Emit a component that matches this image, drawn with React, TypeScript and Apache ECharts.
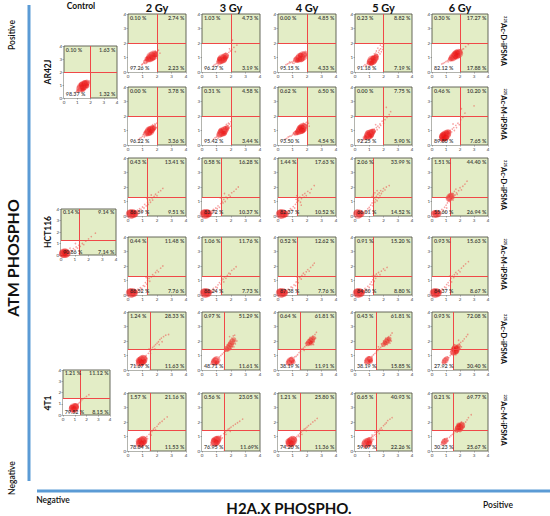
import React, { useEffect, useRef } from "react";
import * as echarts from "echarts";

// ---------- data ----------
const doses = ["2 Gy", "3 Gy", "4 Gy", "5 Gy", "6 Gy"];
const cellLines = ["AR42J", "HCT116", "4T1"];
const treatments = ["Ac-D-iPSMA", "Ac-M-iPSMA"];
const isotope = "225";
// quadrant gates [x, y] per cell line
const gates = [[2, 2], [1.3, 1.3], [1.5, 1.45]];

// quadrant percentages: [upper-left, upper-right, lower-left, lower-right]
const controlPct = [
  ["0.10 %", "1.63 %", "98.37 %", "1.32 %"],
  ["0.14 %", "9.14 %", "90.86 %", "7.14 %"],
  ["1.21 %", "11.12 %", "79.52 %", "8.15 %"],
];
const ar42jDPct = [
  ["0.10 %", "2.74 %", "97.26 %", "2.23 %"],
  ["1.03 %", "4.73 %", "96.27 %", "3.19 %"],
  ["0.00 %", "4.85 %", "95.15 %", "4.33 %"],
  ["0.23 %", "8.82 %", "91.18 %", "7.19 %"],
  ["0.30 %", "17.27 %", "82.12 %", "17.88 %"],
];
const ar42jMPct = [
  ["0.00 %", "3.78 %", "96.22 %", "3.36 %"],
  ["0.31 %", "4.58 %", "95.42 %", "3.44 %"],
  ["0.62 %", "6.50 %", "93.50 %", "4.54 %"],
  ["0.00 %", "7.75 %", "92.25 %", "5.90 %"],
  ["0.46 %", "10.20 %", "89.80 %", "7.65 %"],
];
const hct116DPct = [
  ["0.43 %", "13.41 %", "86.59 %", "9.51 %"],
  ["0.58 %", "16.28 %", "83.72 %", "10.37 %"],
  ["1.44 %", "17.63 %", "82.37 %", "10.52 %"],
  ["2.06 %", "33.99 %", "66.01 %", "14.52 %"],
  ["1.51 %", "44.40 %", "55.60 %", "26.94 %"],
];
const hct116MPct = [
  ["0.44 %", "11.48 %", "88.52 %", "7.76 %"],
  ["1.06 %", "11.76 %", "88.24 %", "7.73 %"],
  ["0.52 %", "12.62 %", "87.38 %", "7.76 %"],
  ["0.91 %", "15.20 %", "84.80 %", "8.80 %"],
  ["0.93 %", "15.63 %", "84.37 %", "8.67 %"],
];
const t41DPct = [
  ["1.24 %", "28.33 %", "71.67 %", "11.63 %"],
  ["0.97 %", "51.29 %", "48.71 %", "11.61 %"],
  ["0.64 %", "61.81 %", "38.19 %", "11.91 %"],
  ["0.43 %", "61.81 %", "38.19 %", "15.85 %"],
  ["0.93 %", "72.08 %", "27.92 %", "30.40 %"],
];
const t41MPct = [
  ["1.57 %", "21.16 %", "78.84 %", "11.53 %"],
  ["0.56 %", "23.05 %", "76.95 %", "11.69%"],
  ["1.21 %", "25.80 %", "74.20 %", "11.36 %"],
  ["0.65 %", "40.93 %", "59.07 %", "22.26 %"],
  ["0.21 %", "69.77 %", "30.23 %", "25.67 %"],
];

// events: "x y [dotSize]" separated by commas
const controlClouds = [
  "1.35 .85 6,1.5 .98 6,1.62 1.08 5,1.22 .74 5,1.72 1.18 4,1.42 .8 4,1.55 1.12 4,1.0 .5,1.08 .58,.92 .46,1.15 .72,1.26 .62,1.38 1.0,1.45 .7,1.6 .9,1.68 .98,1.78 1.06,1.82 1.28,1.88 1.2,1.48 1.1,1.62 1.24,1.04 .64,1.94 1.32,1.3 .56,1.52 .76,1.18 .86,1.7 1.3,1.12 .5,.98 .6,1.2 .95,1.45 .65 3,1.65 .82,1.3 1.05 3,1.55 1.25,1.75 .92 3",
  "0.2 .15 6,0.32 .16 6,0.42 .14 5,0.14 .12 5,0.26 .22 4,0.38 .24 3,.5 .18,.55 .3,.6 .22,.7 .4,.8 .35,.9 .55,1.0 .45,1.1 .7,1.2 .6,1.3 .85,1.4 .75,1.55 1.0,1.65 .9,1.8 1.2,2.0 1.4,2.2 1.6,.65 .6,1.05 1.0,2.5 1.9",
  "0.92 .62 6,1.02 .7 5,0.82 .55 5,0.95 .5 4,1.1 .78 4,0.75 .68 3,.6 .4,.65 .55,.7 .45,.78 .8,.88 .85,1.0 .9,1.05 .45,1.15 .6,1.2 .9,1.3 1.0,1.4 1.1,1.5 1.2,1.6 1.35,1.7 1.45,1.85 1.5,2.0 1.65,2.2 1.8,1.25 .75,.85 .35",
];
const ar42jDClouds = [
  "1.6 1.05 6,1.75 1.15 6,1.5 .95 5,1.85 1.22 4,1.4 .88 4,1.68 .98 4,1.2 .7 3,1.0 .55,1.1 .62,1.15 .8,1.3 .66,1.35 .95,1.45 1.1,1.55 .8,1.62 1.25,1.78 1.3,1.9 1.35,1.95 1.1,1.98 1.4,1.82 1.0,1.25 .85,.95 .5,1.7 1.35,1.88 1.45,1.58 1.18,1.42 .75,2.1 1.5,2.2 1.3,1.5 1.2,1.8 .95,1.6 .85,1.45 1.15,1.9 1.2 3,1.3 .9 3",
  "1.4 .9 6,1.55 1.02 5,1.3 .82 5,1.65 1.12 4,1.2 .7 4,1.5 .85 4,.8 .45,.9 .52,1.0 .58,1.05 .7,1.12 .62,1.18 .85,1.28 .95,1.38 .68,1.45 1.1,1.6 .92,1.72 1.25,1.8 1.15,1.85 1.35,1.95 1.45,1.75 1.0,1.62 1.28,2.05 1.55,2.2 1.7,2.4 1.85,2.1 2.2,1.9 1.6,1.1 .45,2.3 1.4,1.25 1.0,1.55 .75,1.35 .7,1.2 .9 3,1.6 1.0 3,1.45 1.1",
  "1.55 1.0 6,1.7 1.1 6,1.4 .92 5,1.8 1.2 4,1.25 .85 4,1.6 .9 4,.55 .5,.65 .55,.75 .6,.85 .65,.95 .7,1.05 .75,1.0 .62,1.12 .82,1.2 .72,1.3 .98,1.35 .78,1.45 1.08,1.5 .82,1.65 1.22,1.75 .98,1.85 1.3,1.92 1.15,1.98 1.38,2.0 1.25,1.88 1.42,1.15 .92,.8 .7,1.45 1.1,1.75 .9,1.55 1.15 3,1.35 .8 3,1.85 1.05,1.1 .6",
  "1.2 .8 6,1.35 .9 5,1.1 .7 5,1.45 1.0 4,1.3 .72 4,1.0 .62 3,.6 .4,.7 .5,.8 .45,.85 .6,.9 .75,1.0 .85,1.05 .55,1.15 .95,1.25 1.05,1.4 1.15,1.5 .82,1.55 1.2,1.6 1.05,1.65 1.35,1.7 1.5,1.75 1.25,1.8 1.6,1.85 1.4,1.9 1.75,1.95 1.55,1.45 1.3,1.6 1.65,1.35 1.25,2.0 1.9,1.78 1.85,1.5 1.45,1.05 .9,1.35 .65,1.25 .95 3,1.15 .6 3,1.5 1.1 3,1.6 .9",
  "1.75 1.2 6,1.88 1.28 6,1.62 1.12 5,1.5 1.02 5,1.95 1.35 4,1.4 .95 4,1.3 .88 3,.7 .55,.8 .6,.9 .65,1.0 .72,1.1 .78,1.15 .7,1.2 .85,1.35 1.02,1.45 .85,1.55 1.18,1.65 .98,1.7 1.3,1.82 1.08,1.85 1.4,2.0 1.22,2.05 1.48,2.1 1.35,2.25 1.6,2.4 1.75,2.6 1.9,1.98 1.5,1.6 1.25,2.15 1.55,1.65 1.3 3,1.9 1.15 3,1.8 1.35 3,1.55 1.2,1.95 1.25,1.7 1.05 3",
];
const ar42jMClouds = [
  "1.5 .98 6,1.62 1.08 5,1.38 .88 5,1.72 1.15 4,1.25 .8 4,1.5 .82 3,.7 .35,.8 .45,.9 .5,1.0 .6,1.05 .72,1.12 .55,1.2 .92,1.3 .68,1.35 1.02,1.45 1.12,1.55 .75,1.6 1.22,1.68 .95,1.75 1.3,1.82 1.05,1.88 1.38,1.95 1.2,1.98 1.5,1.85 1.45,1.15 .85,1.42 .7,1.7 1.4,1.35 1.05,1.65 .88,1.45 1.1 3,1.6 .95 3,1.3 .72,1.8 1.2 3",
  "1.42 .9 6,1.55 1.02 5,1.3 .82 5,1.65 1.12 4,1.2 .7 4,1.48 .8 3,.8 .4,.9 .5,1.0 .55,1.05 .68,1.12 .6,1.15 .82,1.25 .95,1.35 .65,1.38 1.05,1.5 1.12,1.58 .88,1.62 1.25,1.72 1.0,1.78 1.35,1.85 1.18,1.9 1.45,1.98 1.3,2.0 1.6,1.82 1.5,1.68 1.42,1.1 .45,1.3 1.0 3,1.55 .8 3,1.2 .85,1.65 1.05,1.45 .72,1.75 1.2 3",
  "1.6 1.1 6,1.72 1.2 6,1.5 1.0 5,1.82 1.28 4,1.4 .92 4,1.65 .98 4,1.3 .85 3,.5 .4,.6 .45,.7 .55,.8 .6,.9 .62,1.0 .7,1.05 .82,1.15 .75,1.2 .95,1.3 1.05,1.45 1.15,1.55 .85,1.62 1.3,1.78 1.05,1.85 1.42,1.9 1.2,1.95 1.55,2.0 1.38,2.05 1.65,2.1 1.5,1.75 1.48,1.35 .72,2.15 1.3,1.5 1.2 3,1.75 1.0 3,1.4 1.05,1.85 1.15,1.65 1.25 3,1.2 .8 3",
  "1.0 .72 6,1.12 .82 5,.9 .62 5,1.22 .92 4,.82 .55 3,1.05 .6 3,.5 .3,.6 .38,.65 .5,.72 .42,.75 .62,.85 .75,.95 .85,1.05 .95,1.15 .65,1.2 1.05,1.3 .8,1.35 1.1,1.4 .95,1.5 1.2,1.55 1.05,1.6 1.3,1.7 1.2,1.75 1.45,1.8 1.35,2.0 1.5,2.1 1.75,2.25 1.9,2.4 2.1,2.2 2.6,2.5 2.3,1.45 1.4,1.9 1.65,.9 .85 3,1.15 .65 3,1.3 .95 3,.75 .7,1.1 .95,.7 .5 3",
  "0.88 .6 6,1.0 .7 6,.78 .5 5,1.1 .8 5,.95 .48 4,.72 .62 4,1.2 .9 3,.6 .35,.65 .45,.7 .3,.82 .72,.9 .82,1.05 .55,1.15 .65,1.25 .75,1.3 1.0,1.4 .9,1.45 1.1,1.55 1.2,1.6 1.0,1.7 1.35,1.75 1.2,1.85 1.5,1.95 1.4,2.05 1.75,2.2 1.9,2.35 2.2,3.0 2.7,2.1 2.5,1.5 1.45,.55 .55,.8 .7 4,1.0 .5 4,1.05 .82 3,.7 .4 3,1.2 .65,.85 .4 3",
];
const hct116DClouds = [
  "0.18 .14 6,0.3 .16 6,0.42 .15 5,0.52 .18 4,0.12 .2 4,0.36 .26 3,.6 .25,.65 .4,.75 .3,.8 .5,.9 .45,1.0 .62,1.1 .55,1.15 .8,1.25 .7,1.35 .95,1.4 .8,1.5 1.1,1.55 .95,1.65 1.25,1.7 1.1,1.8 1.35,1.9 1.5,2.0 1.4,2.1 1.65,2.25 1.75,2.4 1.9,1.3 1.2,1.6 1.45,.95 .3",
  "0.18 .14 6,0.3 .15 6,0.4 .18 5,0.12 .22 4,0.48 .14 4,.58 .22,.62 .35,.7 .28,.78 .45,.85 .4,.95 .55,1.05 .5,1.1 .7,1.2 .6,1.3 .85,1.38 1.0,1.45 .9,1.5 1.15,1.6 1.0,1.65 1.3,1.75 1.2,1.85 1.45,1.95 1.35,2.05 1.6,2.2 1.7,2.35 1.85,1.25 1.25,1.55 1.55,2.5 2.0,.9 .25",
  "0.18 .13 6,0.3 .15 6,0.42 .16 5,0.54 .14 4,0.12 .22 4,.62 .25,.7 .35,.78 .3,.85 .5,.95 .45,1.05 .65,1.15 .55,1.2 .8,1.3 .95,1.35 1.1,1.38 1.2,1.42 1.05,1.5 1.3,1.55 .95,1.62 1.2,1.7 1.45,1.8 1.3,1.85 1.55,1.95 1.4,2.05 1.7,2.2 1.6,2.3 1.85,1.3 1.4,1.25 1.15,2.5 2.1,1.6 .75",
  "0.2 .14 6,0.34 .15 5,0.46 .16 4,0.14 .22 4,.6 .22,.7 .35,.8 .3,.9 .5,1.0 .6,1.05 .45,1.1 .75,1.2 .9,1.25 .7,1.3 1.05,1.35 1.25,1.4 .95,1.45 1.15,1.5 1.35,1.55 1.05,1.6 1.5,1.65 1.25,1.7 1.6,1.75 1.4,1.8 1.75,1.85 1.55,1.95 1.7,2.0 1.9,2.1 1.8,2.2 2.0,2.4 2.1,1.4 1.6,1.2 1.35,1.55 1.75,1.3 1.5",
  "0.2 .14 5,0.34 .15 5,0.46 .16 4,0.14 .22 3,1.3 1.3 5,1.4 1.4 4,1.2 1.2 4,.6 .3,.7 .45,.8 .4,.9 .6,1.0 .75,1.05 .55,1.1 .9,1.15 1.05,1.25 1.0,1.3 1.15,1.35 1.5,1.4 1.2,1.45 1.35,1.5 1.55,1.55 1.25,1.6 1.7,1.65 1.45,1.7 1.85,1.75 1.6,1.8 1.5,1.9 1.75,2.0 1.95,2.1 1.8,2.2 2.05,2.35 2.2,2.5 2.4,1.2 1.45,1.5 1.1,1.05 1.25,.95 .3",
];
const hct116MClouds = [
  "0.18 .14 6,0.3 .16 6,0.42 .15 5,0.12 .22 4,0.5 .2 3,.6 .25,.68 .4,.75 .3,.85 .5,.95 .45,1.05 .65,1.15 .6,1.2 .85,1.3 .75,1.35 1.0,1.45 1.15,1.5 .95,1.6 1.25,1.7 1.4,1.8 1.3,1.9 1.55,2.0 1.7,2.1 1.6,2.25 1.85,2.4 2.0,1.25 1.2,.9 .3",
  "0.18 .14 6,0.3 .15 6,0.42 .16 5,0.12 .22 4,0.52 .2 3,.6 .3,.7 .25,.78 .45,.85 .35,.95 .55,1.05 .5,1.1 .7,1.2 .85,1.3 .75,1.35 1.0,1.45 1.1,1.5 .9,1.55 1.25,1.65 1.15,1.75 1.35,1.85 1.5,1.95 1.45,2.05 1.7,2.2 1.8,2.35 1.95,1.3 1.3,.95 .25",
  "0.18 .14 6,0.3 .16 6,0.42 .15 5,0.12 .22 4,0.52 .18 3,.6 .28,.7 .4,.8 .35,.9 .55,1.0 .5,1.1 .7,1.2 .65,1.25 .9,1.35 1.05,1.4 .85,1.5 1.2,1.6 1.1,1.65 1.35,1.75 1.5,1.85 1.4,1.95 1.6,2.05 1.75,2.15 1.65,2.25 1.9,2.4 2.05,2.5 2.2,1.3 1.25",
  "0.18 .14 6,0.3 .15 6,0.42 .16 5,0.12 .22 4,0.54 .2 3,.62 .3,.7 .45,.8 .38,.9 .6,1.0 .52,1.05 .75,1.15 .9,1.2 .7,1.25 1.05,1.3 1.2,1.35 .95,1.4 1.35,1.45 1.15,1.5 1.45,1.55 1.3,1.65 1.55,1.75 1.4,1.85 1.65,2.0 1.8,2.1 1.7,2.25 1.9,1.2 1.3,.95 .3",
  "0.18 .14 6,0.3 .15 6,0.42 .16 5,0.12 .22 4,0.54 .2 3,.62 .3,.72 .42,.8 .35,.9 .55,1.0 .5,1.05 .72,1.15 .85,1.2 .65,1.3 1.0,1.35 1.15,1.4 .9,1.45 1.3,1.55 1.2,1.6 1.4,1.7 1.55,1.8 1.45,1.9 1.7,2.0 1.6,2.1 1.85,2.25 2.0,2.4 2.15,2.6 2.3,1.25 1.3",
];
const t41DClouds = [
  "0.92 .62 6,1.02 .72 6,0.82 .52 5,0.95 .48 4,1.1 .8 4,0.75 .66 4,1.15 .6 3,.55 .3,.6 .45,.65 .35,.7 .55,.75 .8,.85 .88,.95 .95,1.05 .4,1.2 .9,1.25 1.0,1.3 .8,1.4 1.15,1.5 1.3,1.6 1.4,1.7 1.55,1.8 1.65,1.9 1.75,2.0 1.85,2.1 1.95,2.2 2.1,2.3 2.2,2.45 2.3,2.6 2.4,2.8 2.45,1.55 1.15,1.85 1.45,2.15 1.75,1.45 1.45,2.35 1.95",
  "0.9 .6 5,1.0 .68 5,0.82 .52 4,1.05 .5 3,.6 .4,.7 .55,.75 .7,.85 .8,.95 .82,1.1 .75,1.2 .9,1.3 1.0,1.4 1.1,1.5 1.2,1.6 1.3,1.7 1.4 3,1.8 1.5 4,1.9 1.65 4,2.0 1.8 4,2.1 1.95 4,2.2 2.1 3,1.75 1.75,1.85 1.9,1.95 2.05,2.05 2.2,2.15 2.35,2.25 2.4,2.3 1.8,2.2 1.6,2.0 1.45,1.65 1.6,1.55 1.45,2.4 2.0,1.9 2.3,2.1 1.6",
  "0.85 .6 5,0.95 .7 4,0.75 .5 4,1.05 .55 3,.6 .4,.65 .55,.7 .7,.8 .78,.9 .85,1.0 .8,1.1 .68,1.15 .9,1.25 .95,1.35 1.05,1.45 1.2,1.55 1.3,1.65 1.45,1.75 1.5,1.85 1.6,1.95 1.7,2.05 1.8 3,2.15 1.9 4,2.25 2.0 4,2.35 2.1 4,2.45 2.2 3,2.3 1.85 3,2.2 2.25,2.4 2.35,2.55 2.45,2.6 2.2,2.5 1.95,2.0 1.95,1.9 1.85,2.1 2.1,2.65 2.6,2.45 1.75,1.8 1.35",
  "0.95 .68 5,1.05 .75 4,0.85 .58 4,1.1 .6 3,.7 .5,.75 .65,.8 .78,.9 .85,1.0 .9,1.15 .82,1.2 .95,1.3 1.05,1.4 1.15,1.5 1.25,1.6 1.35,1.7 1.45,1.8 1.55,1.9 1.65,2.0 1.75 3,2.1 1.85 3,2.2 1.95 4,2.3 2.05 4,2.4 2.15 3,2.25 1.75,2.15 2.2,2.35 2.3,2.5 2.4,2.55 2.0,2.0 2.0,1.85 1.8,2.6 2.55,1.65 1.6,2.45 1.85",
  "0.95 .65 4,0.85 .55 3,1.05 .78 3,.75 .5,.8 .7,.9 .8,1.0 .55,1.1 .9,1.2 .85,1.3 1.0,1.4 1.1,1.5 1.2 4,1.6 1.3 5,1.7 1.4 5,1.8 1.5 4,1.65 1.55 4,1.55 1.45 3,1.75 1.25 3,1.9 1.65 3,1.95 1.8,2.05 1.9,2.1 1.6,2.2 2.0,2.3 2.15,2.45 2.3,2.55 2.45,1.5 1.6,1.45 1.35,1.85 1.3,2.0 1.45,1.6 1.75,1.4 1.5,1.7 1.05,1.9 2.05",
];
const t41MClouds = [
  "0.92 .62 6,1.02 .72 6,0.82 .52 5,0.95 .48 4,1.1 .8 4,0.75 .68 4,1.15 .62 3,.55 .35,.6 .48,.68 .38,.72 .78,.85 .88,.95 .95,1.05 .42,1.2 .9,1.3 1.0,1.35 .85,1.45 1.15,1.55 1.25,1.65 1.35,1.75 1.5,1.85 1.6,2.0 1.7,2.1 1.85,2.2 1.95,2.35 2.05,2.5 2.2,2.7 2.35,1.6 1.1,1.9 1.45",
  "0.95 .68 6,1.05 .78 5,0.85 .58 5,1.0 .55 4,1.15 .85 4,0.8 .75 3,.6 .4,.65 .55,.72 .45,.78 .85,.9 .92,1.0 .98,1.1 .5,1.25 .95,1.3 1.05,1.4 .9,1.5 1.2,1.6 1.3,1.7 1.4,1.8 1.5,1.9 1.55,2.0 1.65,2.15 1.75,2.3 1.85,2.45 1.95,2.6 2.05,2.8 2.2,1.65 1.15,1.95 1.35",
  "0.9 .62 6,1.0 .72 6,0.8 .52 5,0.95 .48 4,1.1 .8 4,0.72 .66 4,.55 .35,.6 .5,.65 .38,.7 .78,.82 .88,.92 .95,1.05 .42,1.15 .65,1.2 .9,1.3 1.0,1.4 1.1,1.5 1.2,1.6 1.3,1.7 1.4,1.8 1.5,1.9 1.55,2.0 1.65,2.1 1.75,2.25 1.85,2.4 2.0,2.55 2.1,2.7 2.25,1.65 1.15,1.95 1.4,1.45 1.0",
  "0.82 .55 6,0.92 .65 5,0.72 .48 5,1.0 .5 4,1.05 .75 4,.55 .35,.6 .5,.65 .4,.7 .65,.78 .75,.88 .82,1.0 .9,1.1 .62,1.15 .95,1.25 1.0,1.3 .8,1.35 1.1,1.45 1.15,1.5 1.0,1.55 1.3,1.65 1.35,1.7 1.2,1.75 1.5,1.85 1.6,1.9 1.45,2.0 1.75,2.1 1.85,2.2 1.95,2.3 2.1,2.45 2.2,2.6 2.3,1.4 1.3,1.2 1.1",
  "0.9 .65 4,0.8 .55 3,1.0 .75 3,.65 .45,.7 .6,.78 .75,.88 .82,.98 .55,1.08 .88,1.15 .7,1.25 .95,1.35 1.05,1.45 1.15,1.55 1.25,1.65 1.35,1.75 1.45 3,1.85 1.55 4,1.95 1.62 5,2.05 1.7 5,2.15 1.8 4,2.0 1.45 3,1.9 1.8 3,2.25 1.9,2.3 1.65,2.4 2.0,2.5 2.15,2.6 2.3,2.8 2.5,1.8 1.3,2.2 1.55,1.7 1.65,2.1 2.0",
];

const rowPct = [ar42jDPct, ar42jMPct, hct116DPct, hct116MPct, t41DPct, t41MPct];
const rowClouds = [ar42jDClouds, ar42jMClouds, hct116DClouds, hct116MClouds, t41DClouds, t41MClouds];

// ---------- layout ----------
const colX = [128, 202, 278, 355, 432];
const colW = [58, 58, 58, 57, 56];
const rowY = [14, 87, 158, 237, 312, 393];
const rowH = 58;
const controlBox = [
  { left: 64, top: 46, width: 53, height: 52 },
  { left: 61, top: 209, width: 55, height: 46 },
  { left: 63, top: 370, width: 47, height: 45 },
];
const FONT = "Lato";
const BLUE = "#5b9bd5";
const CORE = "rgba(236,18,18,0.5)";
const SPARSE = "rgba(238,60,60,0.6)";

function cloudItems(s: string) {
  return s.split(",").map((t) => {
    const v = t.trim().split(/\s+/).map(Number);
    const big = v.length > 2;
    return {
      value: [v[0], v[1]],
      symbolSize: big ? v[2] * 1.6 : 1.6,
      itemStyle: { color: big ? CORE : SPARSE },
    };
  });
}

function buildOption() {
  const grid: any[] = [];
  const xAxis: any[] = [];
  const yAxis: any[] = [];
  const series: any[] = [];

  const addPanel = (box: any, gate: number[], pct: string[], cloud: string) => {
    const i = grid.length;
    grid.push({
      ...box,
      show: true,
      backgroundColor: "#e3edc6",
      borderColor: "#55584a",
      borderWidth: 0.9,
      containLabel: false,
    });
    const axisCommon = {
      gridIndex: i,
      type: "value",
      min: 0,
      max: 4,
      interval: 1,
      splitLine: { show: false },
      axisLine: { show: false },
      axisTick: { show: true, length: 1.5, lineStyle: { color: "#777", width: 0.6 } },
      axisLabel: { fontSize: 4.5, color: "#444", margin: 2, fontFamily: FONT },
    };
    xAxis.push({ ...axisCommon });
    yAxis.push({ ...axisCommon });
    series.push({
      type: "scatter",
      xAxisIndex: i,
      yAxisIndex: i,
      silent: true,
      z: 3,
      data: cloudItems(cloud),
      markArea: {
        silent: true,
        itemStyle: { color: "#ffffff" },
        data: [[{ xAxis: 0, yAxis: 0 }, { xAxis: gate[0], yAxis: gate[1] }]],
      },
      markLine: {
        silent: true,
        symbol: "none",
        label: { show: false },
        lineStyle: { color: "#f04848", width: 1, type: "solid" },
        data: [{ xAxis: gate[0] }, { yAxis: gate[1] }],
      },
    });
    const lab = (name: string, x: number, y: number, pos: string) => ({
      name,
      value: [x, y],
      label: { position: pos, distance: 0 },
    });
    series.push({
      type: "scatter",
      xAxisIndex: i,
      yAxisIndex: i,
      silent: true,
      z: 10,
      symbolSize: 1,
      itemStyle: { color: "rgba(0,0,0,0)" },
      label: {
        show: true,
        fontSize: 5.4,
        fontWeight: "bold",
        fontFamily: FONT,
        color: "#222",
        formatter: "{b}",
      },
      data: [
        lab(pct[0], 0.1, 3.7, "right"),
        lab(pct[1], 3.92, 3.7, "left"),
        lab(pct[2], 0.1, 0.28, "right"),
        lab(pct[3], 3.92, 0.28, "left"),
      ],
    });
  };

  controlBox.forEach((b, k) => addPanel(b, gates[k], controlPct[k], controlClouds[k]));
  for (let r = 0; r < 6; r++) {
    const line = Math.floor(r / 2);
    for (let c = 0; c < 5; c++) {
      addPanel(
        { left: colX[c], top: rowY[r], width: colW[c], height: rowH },
        gates[line],
        rowPct[r][c],
        rowClouds[r][c]
      );
    }
  }

  const graphic: any[] = [];
  const text = (t: string, x: number, y: number, size: number, extra: any = {}) =>
    graphic.push({
      type: "text",
      x,
      y,
      rotation: extra.rotation || 0,
      silent: true,
      style: {
        text: t,
        fontSize: size,
        fontWeight: extra.weight || "bold",
        fontFamily: FONT,
        fill: extra.color || "#111",
        align: "center",
        verticalAlign: "middle",
        rich: extra.rich,
      },
    });

  // column headers
  text("Control", 81, 6, 8.5);
  doses.forEach((d, c) => text(d, colX[c] + colW[c] / 2, 7, 11));
  // row labels
  const lineY = [72, 232, 403];
  cellLines.forEach((n, k) => text(n, 48, lineY[k], 8.5, { rotation: Math.PI / 2 }));
  // treatment labels on the right
  for (let r = 0; r < 6; r++) {
    const tr = treatments[r % 2];
    text(`{s|${isotope}}${tr}`, 503, rowY[r] + rowH / 2 - 2, 7.5, {
      rotation: -Math.PI / 2,
      rich: { s: { fontSize: 4, fontWeight: "bold", fontFamily: FONT, fill: "#111", verticalAlign: "top", padding: [0, 0, 4, 0] } },
    });
  }
  // axis titles
  text("Positive", 12, 35, 8.5, { rotation: Math.PI / 2, weight: 600 });
  text("ATM PHOSPHO", 12, 258, 16, { rotation: Math.PI / 2 });
  text("Negative", 12, 478, 8.5, { rotation: Math.PI / 2, weight: 600 });
  text("Negative", 53, 500, 8.5, { weight: 600 });
  text("H2A.X PHOSPHO.", 289, 508, 15);
  text("Positive", 498, 505, 8.5, { weight: 600 });
  // blue axis bars
  graphic.push({
    type: "line",
    silent: true,
    shape: { x1: 29, y1: 5, x2: 29, y2: 481 },
    style: { stroke: BLUE, lineWidth: 3 },
  });
  graphic.push({
    type: "line",
    silent: true,
    shape: { x1: 37, y1: 491, x2: 550, y2: 491 },
    style: { stroke: BLUE, lineWidth: 3 },
  });

  return {
    animation: false,
    backgroundColor: "#ffffff",
    grid,
    xAxis,
    yAxis,
    series,
    graphic,
  };
}

export default function App() {
  const ref = useRef<HTMLDivElement>(null);
  useEffect(() => {
    document.body.style.margin = "0";
    if (!ref.current) return;
    const chart = echarts.init(ref.current, undefined, { renderer: "svg" });
    chart.setOption(buildOption() as any);
    return () => chart.dispose();
  }, []);
  return <div ref={ref} style={{ width: 550, height: 516 }} />;
}
